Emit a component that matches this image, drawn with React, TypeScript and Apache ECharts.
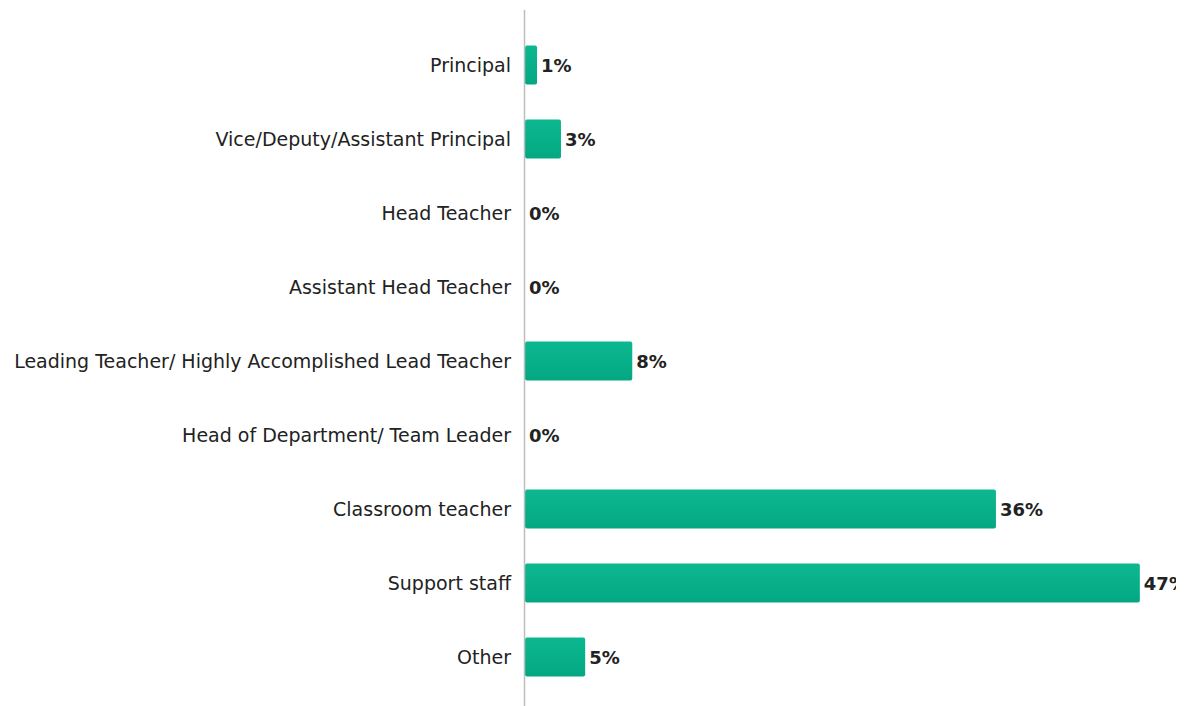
import React, { useEffect, useRef } from "react";
import * as echarts from "echarts";

const categories = [
  "Principal",
  "Vice/Deputy/Assistant Principal",
  "Head Teacher",
  "Assistant Head Teacher",
  "Leading Teacher/ Highly Accomplished Lead Teacher",
  "Head of Department/ Team Leader",
  "Classroom teacher",
  "Support staff",
  "Other",
];
const values = [0.92, 2.75, 0, 0, 8.2, 0, 36.0, 47.0, 4.6];

export default function App() {
  const ref = useRef<HTMLDivElement>(null);
  useEffect(() => {
    document.body.style.margin = "0";
    const chart = echarts.init(ref.current!, null, { renderer: "svg" });
    chart.setOption({
      animation: false,
      grid: { left: 525, right: 10, top: 28, bottom: 12, containLabel: false },
      xAxis: {
        type: "value",
        min: 0,
        max: 49,
        show: false,
        splitLine: { show: false },
      },
      yAxis: {
        type: "category",
        data: categories,
        inverse: true,
        axisLine: { show: false },
        axisTick: { show: false },
        axisLabel: {
          color: "#222",
          fontSize: 19,
          fontFamily: "DejaVu Sans",
          margin: 14,
        },
      },
      graphic: [
        {
          type: "line",
          shape: { x1: 524.5, y1: 10, x2: 524.5, y2: 706 },
          style: { stroke: "#bdbdbd", lineWidth: 1.5 },
          z: 10,
        },
      ],
      series: [
        {
          type: "bar",
          data: values,
          barWidth: 39,
          itemStyle: {
            borderRadius: 2,
            color: new echarts.graphic.LinearGradient(0, 0, 0, 1, [
              { offset: 0, color: "#0cb890" },
              { offset: 1, color: "#03a882" },
            ]),
          },
          label: {
            show: true,
            position: "right",
            distance: 4,
            color: "#222",
            fontSize: 18,
            fontWeight: "bold",
            fontFamily: "DejaVu Sans",
            formatter: (p: any) => Math.round(p.value) + "%",
          },
        },
      ],
    });
    return () => chart.dispose();
  }, []);
  return <div ref={ref} style={{ width: 1176, height: 706 }} />;
}
